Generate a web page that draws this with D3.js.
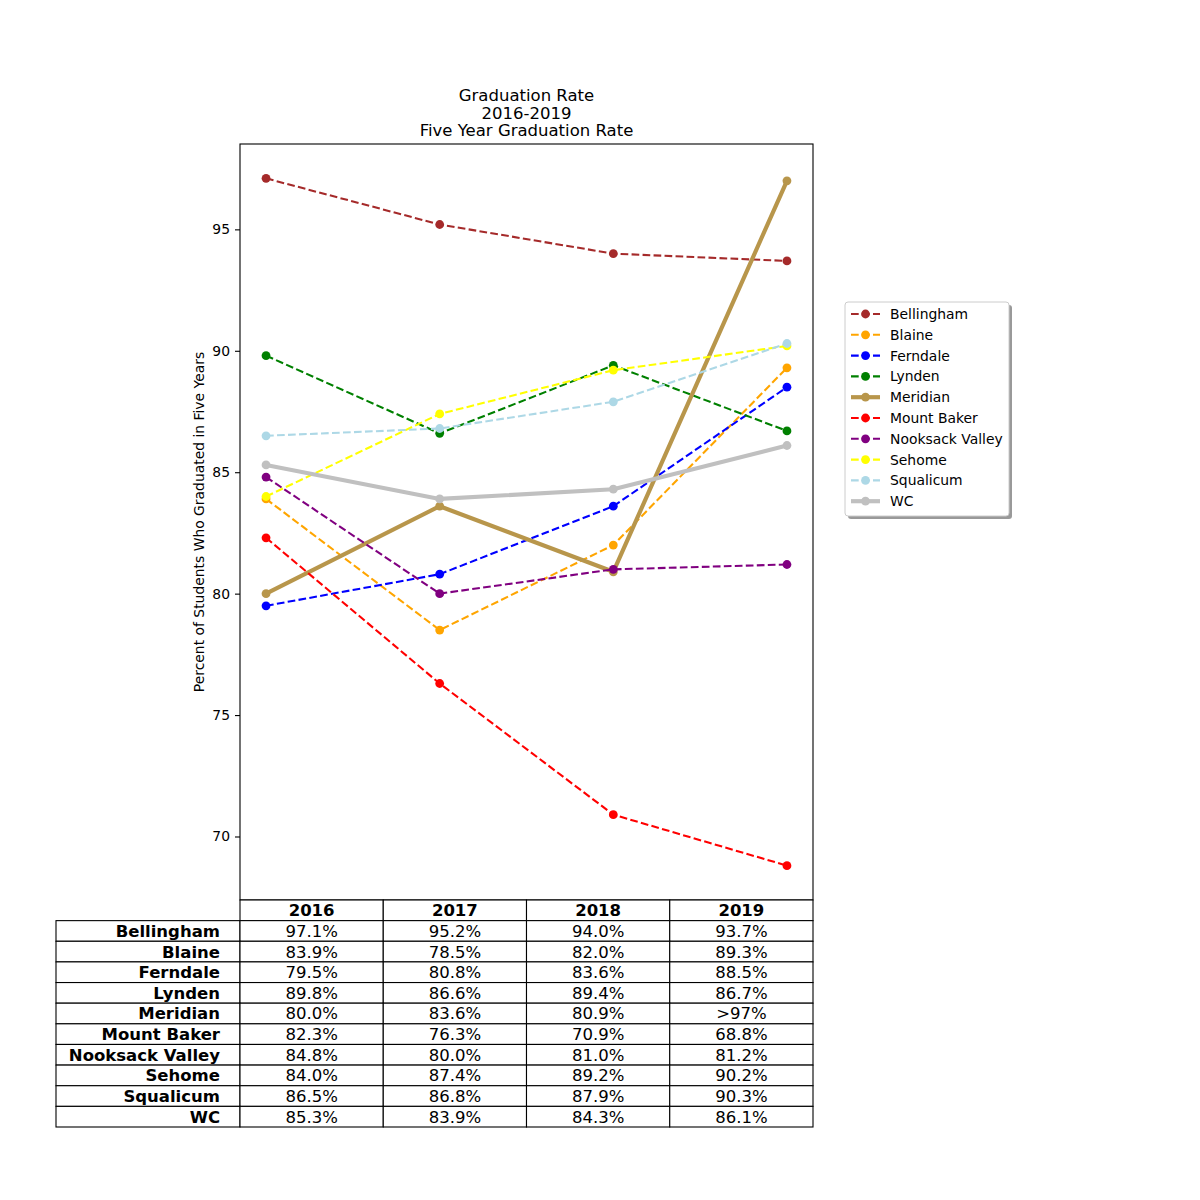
<!DOCTYPE html>
<html>
<head>
<meta charset="utf-8">
<script src="https://cdn.jsdelivr.net/npm/d3@7"></script>
<style>
  html, body { margin: 0; padding: 0; background: #fff; }
  svg { display: block; font-family: "DejaVu Sans", sans-serif; }
</style>
</head>
<body>
<svg id="chart" width="1200" height="1200"></svg>
<script>
// ---------- data ----------
const years = ["2016", "2017", "2018", "2019"];
const schools = ["Bellingham", "Blaine", "Ferndale", "Lynden", "Meridian", "Mount Baker", "Nooksack Valley", "Sehome", "Squalicum", "WC"];
const bellingham = [97.1, 95.2, 94.0, 93.7];
const blaine = [83.9, 78.5, 82.0, 89.3];
const ferndale = [79.5, 80.8, 83.6, 88.5];
const lynden = [89.8, 86.6, 89.4, 86.7];
const meridian = [80.0, 83.6, 80.9, 97.0];
const mountBaker = [82.3, 76.3, 70.9, 68.8];
const nooksackValley = [84.8, 80.0, 81.0, 81.2];
const sehome = [84.0, 87.4, 89.2, 90.2];
const squalicum = [86.5, 86.8, 87.9, 90.3];
const wc = [85.3, 83.9, 84.3, 86.1];
const seriesValues = [bellingham, blaine, ferndale, lynden, meridian, mountBaker, nooksackValley, sehome, squalicum, wc];
// table text overrides (school, year) -> label
const cellOverrides = [{ school: "Meridian", year: "2019", label: ">97%" }];
const yTicks = [70, 75, 80, 85, 90, 95];
const titleLines = ["Graduation Rate", "2016-2019", "Five Year Graduation Rate"];
const yLabel = "Percent of Students Who Graduated in Five Years";

// ---------- styles ----------
const colors = ["#a52a2a", "#ffa500", "#0000ff", "#008000", "#b8964b", "#ff0000", "#800080", "#ffff00", "#add8e6", "#c0c0c0"];
const solidSet = new Set(["Meridian", "WC"]);

const svg = d3.select("#chart");
const plot = { left: 240, right: 813, top: 144, bottom: 900 };

const allVals = seriesValues.flat();
const vmin = d3.min(allVals), vmax = d3.max(allVals);
const vpad = (vmax - vmin) * 0.05;
const y = d3.scaleLinear().domain([vmin - vpad, vmax + vpad]).range([plot.bottom, plot.top]);
const x = d3.scaleLinear().domain([-0.15, years.length - 1 + 0.15]).range([plot.left, plot.right]);

// title
const title = svg.append("text")
  .attr("text-anchor", "middle")
  .attr("font-size", "16.5px")
  .attr("fill", "#000");
titleLines.forEach((t, i) => {
  title.append("tspan").attr("x", (plot.left + plot.right) / 2).attr("y", 101.3 + i * 17.2).text(t);
});

// y-axis
const yAxis = d3.axisLeft(y).tickValues(yTicks).tickSize(5).tickPadding(5).tickFormat(d3.format("d"));
const gy = svg.append("g").attr("transform", `translate(${plot.left},0)`).call(yAxis);
gy.select(".domain").remove();
gy.selectAll(".tick line").attr("stroke", "#000").attr("stroke-width", 1.1);
gy.selectAll(".tick text").attr("font-size", "13.9px").attr("fill", "#000").attr("font-family", "DejaVu Sans");

svg.append("text")
  .attr("transform", `translate(203.5,${(plot.top + plot.bottom) / 2}) rotate(-90)`)
  .attr("text-anchor", "middle")
  .attr("font-size", "13.9px")
  .text(yLabel);

// clip
svg.append("clipPath").attr("id", "clip").append("rect")
  .attr("x", plot.left).attr("y", plot.top).attr("width", plot.right - plot.left).attr("height", plot.bottom - plot.top);

const lineGen = d3.line().x((d, i) => x(i)).y(d => y(d));
const gLines = svg.append("g").attr("clip-path", "url(#clip)");
schools.forEach((s, si) => {
  const vals = seriesValues[si];
  const solid = solidSet.has(s);
  const g = gLines.append("g");
  g.append("path")
    .attr("d", lineGen(vals))
    .attr("fill", "none")
    .attr("stroke", colors[si])
    .attr("stroke-width", solid ? 4.17 : 2.08)
    .attr("stroke-dasharray", solid ? null : "7.7,3.3")
    .attr("stroke-linejoin", "round");
  g.selectAll("circle").data(vals).enter().append("circle")
    .attr("cx", (d, i) => x(i))
    .attr("cy", d => y(d))
    .attr("r", 4.4)
    .attr("fill", colors[si]);
});

// axes frame
svg.append("rect")
  .attr("x", plot.left).attr("y", plot.top)
  .attr("width", plot.right - plot.left).attr("height", plot.bottom - plot.top)
  .attr("fill", "none").attr("stroke", "#000").attr("stroke-width", 1.1);

// ---------- legend ----------
const lg = { x: 845, y: 302, w: 164, h: 214 };
svg.append("rect")
  .attr("x", lg.x + 3).attr("y", lg.y + 3).attr("width", lg.w).attr("height", lg.h)
  .attr("rx", 3).attr("fill", "#808080").attr("opacity", 0.8);
svg.append("rect")
  .attr("x", lg.x).attr("y", lg.y).attr("width", lg.w).attr("height", lg.h)
  .attr("rx", 3).attr("fill", "#fff").attr("stroke", "#cccccc").attr("stroke-width", 1);
schools.forEach((s, si) => {
  const cy = 314 + si * 20.8;
  const solid = solidSet.has(s);
  svg.append("line")
    .attr("x1", 851).attr("x2", 880).attr("y1", cy).attr("y2", cy)
    .attr("stroke", colors[si])
    .attr("stroke-width", solid ? 4.17 : 2.08)
    .attr("stroke-dasharray", solid ? null : "7.7,3.3");
  svg.append("circle").attr("cx", 865.5).attr("cy", cy).attr("r", 4.4).attr("fill", colors[si]);
  svg.append("text")
    .attr("x", 890).attr("y", cy).attr("dy", "0.36em")
    .attr("font-size", "13.9px").text(s);
});

// ---------- table ----------
const tbl = { labelLeft: 56, top: 900, bottom: 1127 };
const nRows = schools.length + 1;
const rowH = (tbl.bottom - tbl.top) / nRows;
const colW = (plot.right - plot.left) / years.length;
const tg = svg.append("g");

function cellLabel(s, yr, v) {
  const o = cellOverrides.find(c => c.school === s && c.year === yr);
  return o ? o.label : d3.format(".1f")(v) + "%";
}

// header row
years.forEach((yr, j) => {
  const x0 = plot.left + j * colW;
  tg.append("rect").attr("x", x0).attr("y", tbl.top).attr("width", colW).attr("height", rowH)
    .attr("fill", "#fff").attr("stroke", "#000").attr("stroke-width", 1.1);
  tg.append("text").attr("x", x0 + colW / 2).attr("y", tbl.top + rowH / 2).attr("dy", "0.36em")
    .attr("text-anchor", "middle").attr("font-size", "16.5px").attr("font-weight", "bold").text(yr);
});
schools.forEach((s, i) => {
  const y0 = tbl.top + (i + 1) * rowH;
  tg.append("rect").attr("x", tbl.labelLeft).attr("y", y0).attr("width", plot.left - tbl.labelLeft).attr("height", rowH)
    .attr("fill", "#fff").attr("stroke", "#000").attr("stroke-width", 1.1);
  tg.append("text").attr("x", 220).attr("y", y0 + rowH / 2).attr("dy", "0.36em")
    .attr("text-anchor", "end").attr("font-size", "16.5px").attr("font-weight", "bold").text(s);
  years.forEach((yr, j) => {
    const x0 = plot.left + j * colW;
    tg.append("rect").attr("x", x0).attr("y", y0).attr("width", colW).attr("height", rowH)
      .attr("fill", "#fff").attr("stroke", "#000").attr("stroke-width", 1.1);
    tg.append("text").attr("x", x0 + colW / 2).attr("y", y0 + rowH / 2).attr("dy", "0.36em")
      .attr("text-anchor", "middle").attr("font-size", "16.5px")
      .text(cellLabel(s, yr, seriesValues[i][j]));
  });
});
</script>
</body>
</html>
